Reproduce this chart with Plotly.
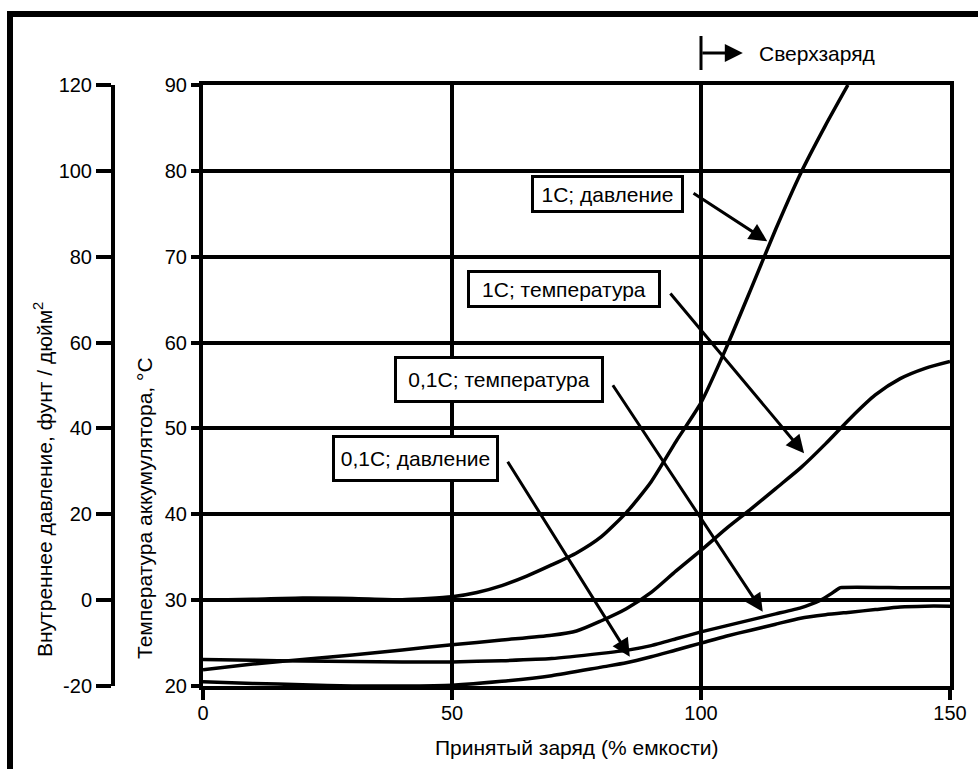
import plotly.graph_objects as go

# ---- data ----
charge_1c_press = [0, 10, 20, 30, 40, 50, 55, 60, 65, 70, 75, 80, 85, 90, 95, 100, 105, 110, 115, 120, 125, 129.5]
press_1c = [0, 0.2, 0.5, 0.4, 0.1, 0.8, 1.8, 3.4, 5.6, 8.2, 11.0, 14.8, 20.4, 27.6, 37.0, 46.0, 58.6, 72.4, 86.4, 99.4, 110.6, 120]

charge_1c_temp = [0, 10, 20, 30, 40, 50, 60, 70, 75, 80, 85, 90, 95, 100, 105, 110, 115, 120, 125, 130, 135, 140, 145, 150]
temp_1c = [21.9, 22.55, 23.1, 23.6, 24.2, 24.8, 25.35, 25.9, 26.4, 27.6, 29.0, 30.9, 33.4, 35.8, 38.3, 40.6, 43.0, 45.4, 48.2, 51.2, 53.9, 55.8, 57.0, 57.8]

charge_01c_temp = [0, 10, 20, 30, 40, 50, 60, 70, 80, 85, 90, 95, 100, 105, 110, 115, 120, 122, 124, 126, 127, 128, 140, 150]
temp_01c = [23.1, 23.0, 22.9, 22.85, 22.8, 22.8, 22.95, 23.2, 23.8, 24.15, 24.7, 25.5, 26.3, 27.0, 27.7, 28.4, 29.1, 29.5, 30.0, 30.7, 31.1, 31.45, 31.45, 31.45]

charge_01c_press = [0, 10, 20, 30, 40, 50, 60, 70, 80, 85, 90, 95, 100, 105, 110, 115, 120, 125, 130, 135, 140, 145, 150]
press_01c = [-19.0, -19.4, -19.7, -20.0, -20.0, -19.8, -18.9, -17.6, -15.6, -14.6, -13.2, -11.6, -10.0, -8.4, -7.0, -5.6, -4.2, -3.4, -2.8, -2.2, -1.6, -1.4, -1.4]

x_ticks = [0, 50, 100, 150]
temp_ticks = [20, 30, 40, 50, 60, 70, 80, 90]
press_ticks = [-20, 0, 20, 40, 60, 80, 100, 120]
press_tick_text = ["-20", "0", "20", "40", "60", "80", "100", "120"]

# label boxes: text, box centre (charge, temp), arrow tail, arrow tip
labels = ["1C; давление", "1C; температура", "0,1C; температура", "0,1C; давление"]
label_x = [81.2, 72.5, 59.4, 42.7]
label_y = [77.3, 66.2, 55.7, 46.5]
label_w = [147, 188, 204, 161]
label_h = [32, 32, 41, 41]
tail_x = [98.2, 93.6, 82.1, 61.0]
tail_y = [77.5, 65.9, 55.2, 46.3]
tip_x = [113.3, 120.7, 112.4, 85.7]
tip_y = [71.8, 47.1, 28.65, 23.4]

FONT = "Liberation Sans, Arial, sans-serif"
W, H = 978, 769
L_PX, R_PX, T_PX, B_PX = 203, 950, 85, 686
PH = B_PX - T_PX

def px(x):
    return x / W

def py(y):
    return (B_PX - y) / PH

fig = go.Figure()
line = dict(color="black", width=3.5)
fig.add_trace(go.Scatter(x=charge_1c_press, y=press_1c, yaxis="y2", mode="lines",
                         line=dict(line, shape="spline", smoothing=0.6), showlegend=False))
fig.add_trace(go.Scatter(x=charge_1c_temp, y=temp_1c, mode="lines",
                         line=dict(line, shape="spline", smoothing=0.7), showlegend=False))
fig.add_trace(go.Scatter(x=charge_01c_temp, y=temp_01c, mode="lines",
                         line=dict(line, shape="spline", smoothing=0.4), showlegend=False))
fig.add_trace(go.Scatter(x=charge_01c_press, y=press_01c, yaxis="y2", mode="lines",
                         line=dict(line, shape="spline", smoothing=0.6), showlegend=False))

annotations = []
for t, cx, cy, w, h in zip(labels, label_x, label_y, label_w, label_h):
    annotations.append(dict(x=cx, y=cy, xref="x", yref="y", text=t, showarrow=False,
                            xanchor="center", yanchor="middle",
                            bgcolor="white", bordercolor="black", borderwidth=3, borderpad=0,
                            width=w, height=h, font=dict(family=FONT, size=21, color="black")))
for ax_, ay_, x_, y_ in zip(tail_x, tail_y, tip_x, tip_y):
    annotations.append(dict(x=x_, y=y_, xref="x", yref="y", ax=ax_, ay=ay_, axref="x", ayref="y",
                            text="", showarrow=True, arrowhead=2, arrowsize=1.2, arrowwidth=3,
                            arrowcolor="black", standoff=0, startstandoff=0))

# overcharge marker
annotations.append(dict(x=108.4, y=py(53), xref="x", yref="paper", ax=-42, ay=0, axref="pixel", ayref="pixel",
                        text="", showarrow=True, arrowhead=2, arrowsize=1.2, arrowwidth=3, arrowcolor="black",
                        standoff=0, startstandoff=0))
annotations.append(dict(x=111.2, y=py(53), xref="x", yref="paper", text="Сверхзаряд", showarrow=False,
                        xanchor="left", yanchor="middle", font=dict(family=FONT, size=21, color="black")))

# axis titles
annotations.append(dict(x=px(43), y=py(480), xref="paper", yref="paper", textangle=-90, showarrow=False,
                        xanchor="center", yanchor="middle",
                        text="Внутреннее давление, фунт / дюйм<sup>2</sup>",
                        font=dict(family=FONT, size=21, color="black")))
annotations.append(dict(x=px(144), y=py(508), xref="paper", yref="paper", textangle=-90, showarrow=False,
                        xanchor="center", yanchor="middle",
                        text="Температура аккумулятора, °C",
                        font=dict(family=FONT, size=21, color="black")))
annotations.append(dict(x=px(577), y=py(747), xref="paper", yref="paper", showarrow=False,
                        xanchor="center", yanchor="middle",
                        text="Принятый заряд (% емкости)",
                        font=dict(family=FONT, size=21, color="black")))

shapes = [
    dict(type="line", xref="x", yref="paper", x0=100, x1=100, y0=py(36), y1=py(70),
         line=dict(color="black", width=3)),
    dict(type="rect", xref="paper", yref="paper", x0=px(10), x1=px(1000), y0=py(14), y1=py(800),
         line=dict(color="black", width=6), fillcolor="rgba(0,0,0,0)"),
]

tickfont = dict(family=FONT, size=20, color="black")
fig.update_layout(
    width=W, height=H,
    margin=dict(l=0, r=0, t=T_PX, b=H - B_PX),
    paper_bgcolor="white", plot_bgcolor="white",
    showlegend=False,
    xaxis=dict(domain=[px(L_PX), px(R_PX)], range=[0, 150], tickvals=x_ticks,
               showgrid=True, gridcolor="black", gridwidth=3.5,
               showline=True, linecolor="black", linewidth=4, mirror=True,
               ticks="outside", ticklen=10, tickwidth=4, tickcolor="black",
               zeroline=False, tickfont=tickfont, automargin=False, ticklabelstandoff=-4),
    yaxis=dict(range=[20, 90], tickvals=temp_ticks,
               showgrid=True, gridcolor="black", gridwidth=3.5,
               showline=True, linecolor="black", linewidth=4, mirror=True,
               ticks="outside", ticklen=8, tickwidth=4, tickcolor="black",
               zeroline=False, tickfont=tickfont, automargin=False),
    yaxis2=dict(range=[-20, 120], tickvals=press_ticks, ticktext=press_tick_text,
                overlaying="y", anchor="free",
                position=px(113), side="left", showgrid=False, zeroline=False,
                showline=True, linecolor="black", linewidth=4,
                ticks="outside", ticklen=15, tickwidth=4, tickcolor="black", tickfont=tickfont,
                automargin=False),
    annotations=annotations,
    shapes=shapes,
)

fig.write_html(
    "out.html",
    config={"displayModeBar": False},
    post_script=(
        "document.documentElement.style.margin='0';"
        "document.body.style.margin='0';document.body.style.padding='0';"
        "document.documentElement.style.overflow='hidden';document.body.style.overflow='hidden';"
    ),
)
